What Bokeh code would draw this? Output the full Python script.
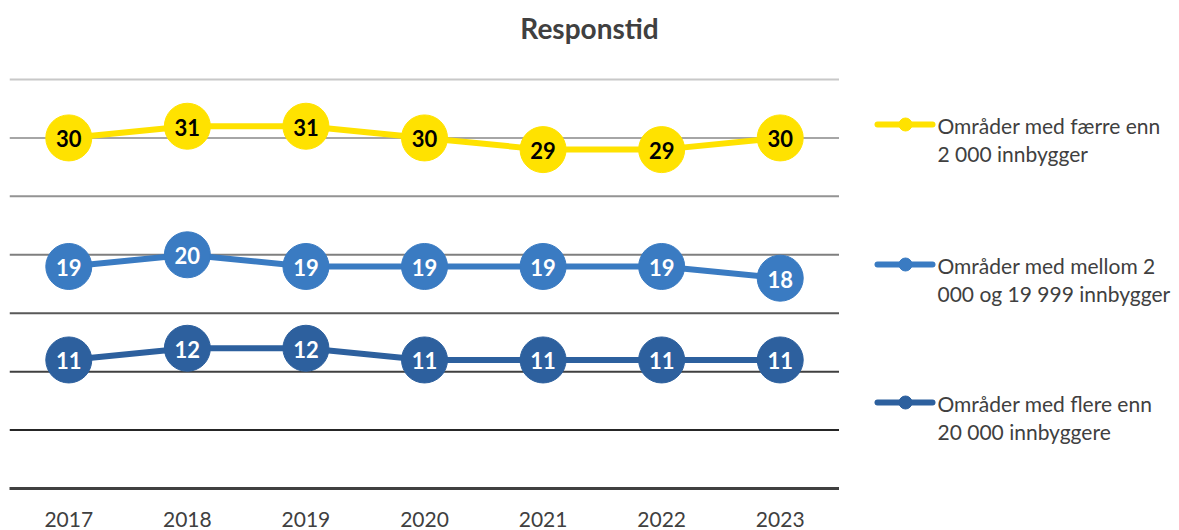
from bokeh.plotting import figure
from bokeh.layouts import row
from bokeh.models import ColumnDataSource, Range1d, FactorRange, Span, Label
from bokeh.embed import file_html
from bokeh.resources import INLINE
from bokeh.core.properties import value

# ---- data ----
years = ["2017", "2018", "2019", "2020", "2021", "2022", "2023"]
small_areas = [30, 31, 31, 30, 29, 29, 30]
medium_areas = [19, 20, 19, 19, 19, 19, 18]
large_areas = [11, 12, 12, 11, 11, 11, 11]
series_first_line = ["Områder med færre enn", "Områder med mellom 2", "Områder med flere enn"]
series_second_line = ["2 000 innbygger", "000 og 19 999 innbygger", "20 000 innbyggere"]
title_text = "Responstid"
grid_values = [5, 10, 15, 20, 25, 30, 35]

# ---- style ----
FONT = "Lato"
TEXT = "#404040"
colors = ["#FFE200", "#3A7BC2", "#2D609E"]
label_colors = ["black", "white", "white"]
grid_colors = ["#262626", "#404040", "#595959", "#7F7F7F", "#939393", "#A6A6A6", "#C8C8C8"]

FW = 830
PLOT_H = 409            # pixels from value 0 to value 35
TOP_PAD = 79            # pixels above value 35 (title area)
Y0, Y1 = 0, 35
px_y = PLOT_H / (Y1 - Y0)
px_x = FW / len(years)
Y_TOP = Y1 + TOP_PAD / px_y

p = figure(x_range=FactorRange(*years, range_padding=0), y_range=Range1d(Y0, Y_TOP),
           frame_width=FW, frame_height=PLOT_H + TOP_PAD, output_backend="svg",
           toolbar_location=None, min_border_left=9, min_border_right=0, min_border_top=0,
           min_border_bottom=30, background_fill_color="white", border_fill_color="white")
p.outline_line_color = None
p.xgrid.grid_line_color = None
p.ygrid.grid_line_color = None
p.yaxis.visible = False

ax = p.xaxis[0]
ax.axis_line_color = TEXT
ax.axis_line_width = 3
ax.major_tick_line_color = None
ax.minor_tick_line_color = None
ax.major_label_text_font = FONT
ax.major_label_text_font_size = "21px"
ax.major_label_text_color = TEXT
ax.major_label_standoff = 17

for gv, gc in zip(grid_values, grid_colors):
    p.add_layout(Span(location=gv, dimension="width", line_color=gc, line_width=2, level="underlay"))

all_series = [small_areas, medium_areas, large_areas]
for vals, col, lc in zip(all_series, colors, label_colors):
    src = ColumnDataSource(dict(x=years, y=vals, t=[str(v) for v in vals]))
    p.line("x", "y", source=src, line_color=col, line_width=6)
    p.scatter("x", "y", source=src, size=46, fill_color=col, line_color=col)
    p.text("x", "y", text="t", source=src, text_align="center", text_baseline="middle",
           text_font=value(FONT), text_font_style="bold", text_font_size="22px",
           text_color=lc, y_offset=1)

p.add_layout(Label(x=(590 - 10) / px_x, y=Y1 + (80 - 28) / px_y, text=title_text,
                   text_align="center", text_baseline="middle", text_font=FONT,
                   text_font_style="bold", text_font_size="28px", text_color=TEXT))

# ---- legend panel (pixel coordinates, y downwards) ----
LW, LH = 338, 520
lg = figure(x_range=Range1d(0, LW), y_range=Range1d(LH, 0), frame_width=LW, frame_height=LH,
            output_backend="svg", toolbar_location=None, x_axis_type=None, y_axis_type=None,
            min_border=0, background_fill_color="white", border_fill_color="white")
lg.outline_line_color = None
lg.xgrid.grid_line_color = None
lg.ygrid.grid_line_color = None

legend_y = [124, 264, 402]
for yc, col, t1, t2 in zip(legend_y, colors, series_first_line, series_second_line):
    lg.line([38, 93], [yc, yc], line_color=col, line_width=6, line_cap="round")
    lg.scatter([66], [yc], size=13, fill_color=col, line_color=col)
    lg.text([98, 98], [yc + 1, yc + 29], text=[t1, t2], text_align="left", text_baseline="middle",
            text_font=value(FONT), text_font_size="21px", text_color=TEXT)

layout = row(p, lg)
open("out.html", "w").write(file_html(layout, INLINE))
